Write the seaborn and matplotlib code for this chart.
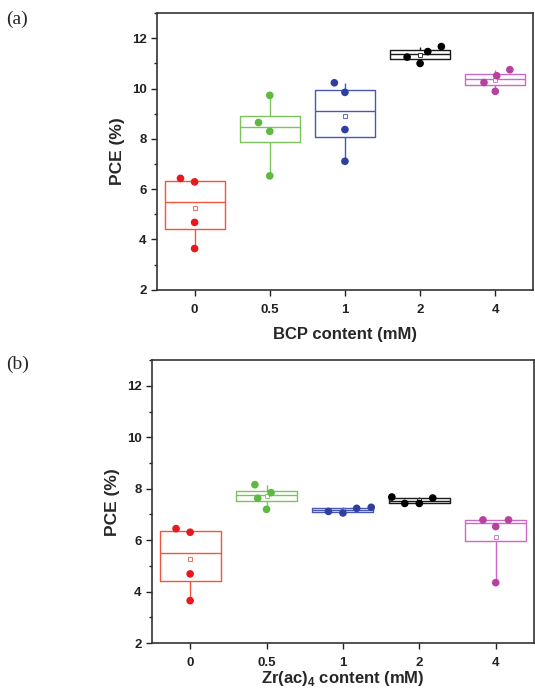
import matplotlib
matplotlib.use("Agg")
from matplotlib import pyplot as plt
from matplotlib.ticker import MultipleLocator
import numpy as np
import pandas as pd
import seaborn as sns

# content levels (mM), same for both panels
categories = ["0", "0.5", "1", "2", "4"]

# PCE (%) of the four devices per level
bcp_pce = [
    [6.43, 6.29, 4.68, 3.64],
    [9.73, 8.65, 8.30, 6.53],
    [10.23, 9.85, 8.37, 7.11],
    [11.47, 11.25, 11.00, 11.67],
    [10.75, 10.24, 9.89, 10.51],
]
zr_pce = [
    [6.45, 6.31, 4.69, 3.65],
    [8.16, 7.63, 7.85, 7.20],
    [7.28, 7.12, 7.06, 7.24],
    [7.43, 7.64, 7.43, 7.68],
    [6.79, 6.79, 6.53, 4.35],
]

box_colors = ["#f0553d", "#7cc35e", "#4856b4", "#1a1a1a", "#cc68c6"]
dot_colors = ["#e8181c", "#5db93f", "#2f3f9f", "#000000", "#b8409f"]

sns.set_theme(style="ticks")
plt.rcParams["font.family"] = ["Liberation Sans", "DejaVu Sans"]
plt.rcParams["mathtext.fontset"] = "custom"
plt.rcParams["mathtext.rm"] = "Liberation Sans:bold"
plt.rcParams["mathtext.bf"] = "Liberation Sans:bold"


def to_frame(values):
    rows = []
    for cat, vals in zip(categories, values):
        for v in vals:
            rows.append({"content": cat, "pce": v})
    return pd.DataFrame(rows)


def draw_panel(ax, values, xlabel, xlabel_pad):
    df = to_frame(values)
    sns.boxplot(data=df, x="content", y="pce", hue="content", order=categories,
                hue_order=categories, palette=box_colors, fill=False, width=0.8,
                whis=(0, 100), showcaps=False, showfliers=False, showmeans=True,
                meanprops=dict(marker="s", markersize=3, markerfacecolor="white",
                               markeredgewidth=0.6),
                linewidth=1.0, legend=False, ax=ax)
    # colour the mean squares like their boxes
    means = [ln for ln in ax.lines if ln.get_marker() == "s"]
    for ln, c in zip(means, box_colors):
        ln.set_markeredgecolor(c)
    n_before = len(ax.collections)
    # lay the swarm out with a wide spacing, like Origin spreads overlapping dots
    sns.swarmplot(data=df, x="content", y="pce", hue="content", order=categories,
                  hue_order=categories, palette=dot_colors, size=10, linewidth=0,
                  legend=False, ax=ax, zorder=5)
    return ax.collections[n_before:], xlabel, xlabel_pad


def style_panel(ax, xlabel, xlabel_pad):
    ax.set_xlim(-0.5, 4.5)
    ax.set_ylim(2, 13)
    ax.yaxis.set_major_locator(MultipleLocator(2))
    ax.yaxis.set_minor_locator(MultipleLocator(1))
    ax.tick_params(axis="both", which="major", direction="out", length=4, width=1,
                   labelsize=9.5, colors="#222222")
    ax.tick_params(axis="y", which="minor", direction="out", length=2.5, width=1,
                   left=True)
    ax.tick_params(axis="x", pad=6)
    for lab in ax.get_xticklabels() + ax.get_yticklabels():
        lab.set_fontweight("bold")
    for s in ax.spines.values():
        s.set_visible(True)
        s.set_linewidth(1.2)
        s.set_color("#333333")
    ax.set_ylabel("PCE (%)", fontsize=12.5, fontweight="bold", labelpad=5)
    ax.set_xlabel(xlabel, fontsize=12, fontweight="bold", labelpad=xlabel_pad)
    ax.grid(False)


fig = plt.figure(figsize=(5.35, 6.9), dpi=100)
ax_a = fig.add_axes([0.2935, 0.580, 0.7025, 0.401])
ax_b = fig.add_axes([0.284, 0.068, 0.714, 0.410])

swarm_a = draw_panel(ax_a, bcp_pce, "BCP content (mM)", 8)
swarm_b = draw_panel(ax_b, zr_pce, "Zr(ac)$_\\mathbf{4}$ content (mM)", 0)
style_panel(ax_a, *swarm_a[1:])
style_panel(ax_b, *swarm_b[1:])

# first draw fixes the swarm positions, then shrink the dots to their real size
fig.canvas.draw()
for coll in swarm_a[0] + swarm_b[0]:
    if "draw" in coll.__dict__:
        del coll.draw
    coll.set_sizes([5.5 ** 2])

fig.text(0.012, 0.972, "(a)", fontsize=14, family="Liberation Serif", va="center")
fig.text(0.012, 0.472, "(b)", fontsize=14, family="Liberation Serif", va="center")

fig.savefig("out.png", dpi=100)
